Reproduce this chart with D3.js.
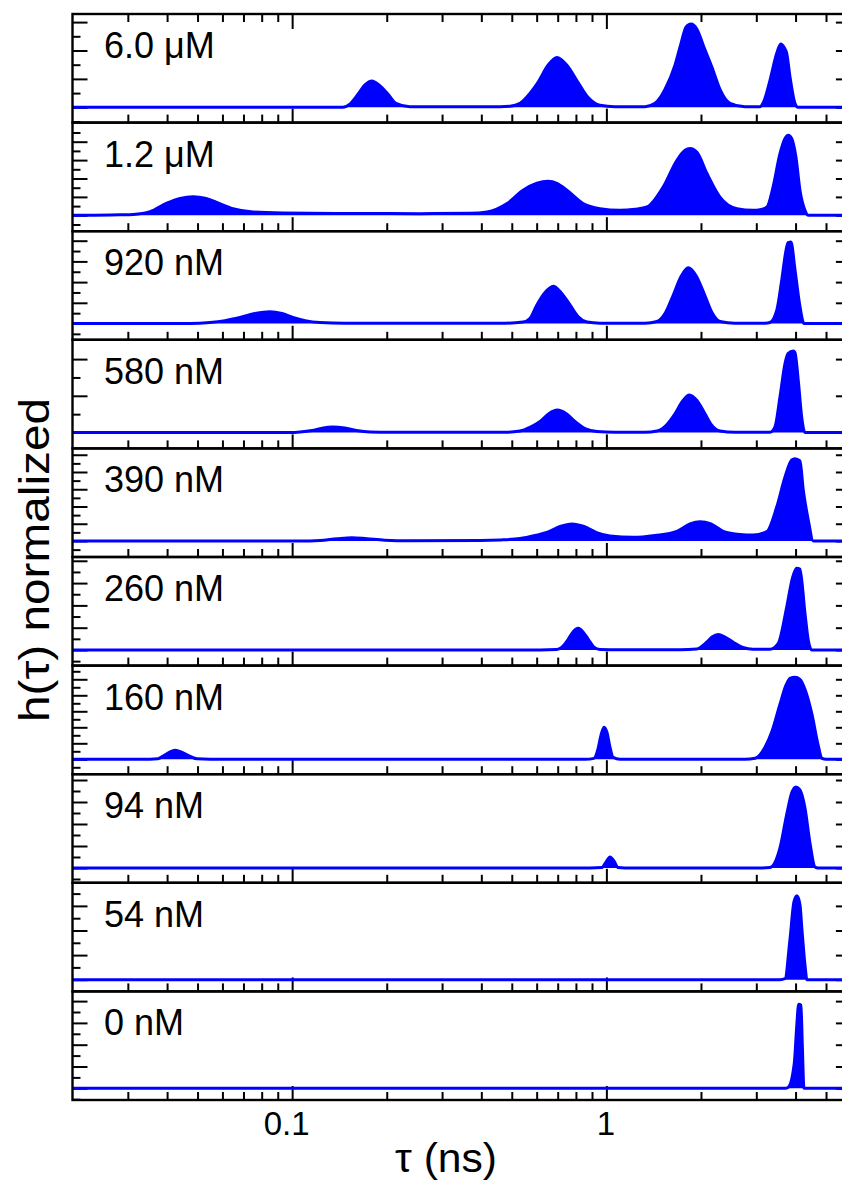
<!DOCTYPE html>
<html><head><meta charset="utf-8">
<script src="https://cdn.jsdelivr.net/npm/d3@7"></script>
<style>html,body{margin:0;padding:0;background:#fff}svg{display:block}</style>
</head><body><svg id="c" width="842" height="1186"></svg>
<script>
// ---------------- data ----------------
const panelLabels = ["6.0 \u03BCM", "1.2 \u03BCM", "920 nM", "580 nM", "390 nM", "260 nM", "160 nM", "94 nM", "54 nM", "0 nM"];
// per-panel y range (in units of that panel's major tick step)
const yMinByPanel = [-0.539, -0.864, -0.787, -0.433, -0.928, -0.70, -0.931, -0.673, -0.476, -0.537];
const yMaxByPanel = [3.285, 5.038, 4.459, 2.526, 5.368, 4.170, 5.856, 4.264, 3.939, 4.445];
const xDomain = [0.02, 6];
const xMajorTicks = [0.1, 1];
const xTickLabels = ["0.1", "1"];
const xMinorTicks = [0.03,0.04,0.05,0.06,0.07,0.08,0.09,0.2,0.3,0.4,0.5,0.6,0.7,0.8,0.9,2,3,4,5];
const xAxisTitle = "\u03C4 (ns)";
const yAxisTitle = "h(\u03C4) normalized";

// [tau (ns), h(tau)]
const h_6000nM = [[0.02,0],[0.145,0],[0.153,0.12],[0.162,0.46],[0.1705,0.79],[0.1795,0.93],[0.189,0.79],[0.202,0.46],[0.214,0.14],[0.237,0.02],[0.459,0.02],[0.493,0.035],[0.531,0.14],[0.571,0.49],[0.606,0.88],[0.652,1.48],[0.696,1.75],[0.749,1.48],[0.812,0.88],[0.874,0.35],[0.954,0.07],[1.065,0.02],[1.327,0.02],[1.428,0.14],[1.536,0.63],[1.653,1.48],[1.728,2.25],[1.792,2.82],[1.859,2.93],[1.942,2.75],[2.045,2.11],[2.168,1.41],[2.299,0.63],[2.474,0.14],[2.761,0.02],[3.082,0.02],[3.150,0.14],[3.316,0.95],[3.484,1.90],[3.588,2.23],[3.676,2.11],[3.749,1.90],[3.839,1.08],[3.982,0.14],[4.071,0],[6,0]];
const h_1200nM = [[0.02,0],[0.0283,0.03],[0.0312,0.05],[0.0353,0.2],[0.0399,0.66],[0.0440,0.92],[0.0484,1.01],[0.0528,0.93],[0.0575,0.70],[0.0648,0.36],[0.0751,0.18],[0.0935,0.125],[0.153,0.10],[0.255,0.09],[0.368,0.11],[0.417,0.18],[0.483,0.64],[0.543,1.36],[0.601,1.74],[0.651,1.85],[0.696,1.74],[0.749,1.36],[0.843,0.64],[0.954,0.36],[1.105,0.27],[1.233,0.33],[1.346,0.45],[1.514,1.52],[1.677,2.99],[1.779,3.53],[1.845,3.63],[1.942,3.42],[2.090,2.27],[2.299,0.99],[2.604,0.36],[2.928,0.27],[3.082,0.30],[3.244,0.45],[3.390,1.52],[3.568,3.35],[3.702,4.17],[3.792,4.35],[3.888,4.18],[4.012,3.15],[4.131,1.36],[4.285,0.27],[4.390,0],[6,0]];
const h_920nM = [[0.02,0],[0.0473,0],[0.0548,0.05],[0.0611,0.14],[0.0682,0.29],[0.0762,0.48],[0.0850,0.57],[0.0928,0.48],[0.1006,0.29],[0.110,0.14],[0.1226,0.05],[0.147,0.015],[0.476,0.015],[0.543,0.07],[0.571,0.24],[0.601,0.90],[0.638,1.50],[0.678,1.80],[0.717,1.50],[0.766,0.90],[0.812,0.34],[0.868,0.07],[0.954,0.015],[1.327,0.015],[1.449,0.10],[1.536,0.48],[1.629,1.34],[1.728,2.27],[1.822,2.69],[1.928,2.32],[2.060,1.34],[2.168,0.53],[2.299,0.10],[2.566,0.015],[3.197,0.015],[3.316,0.05],[3.484,0.63],[3.613,2.08],[3.729,3.53],[3.784,3.91],[3.868,3.94],[3.982,2.61],[4.131,0.82],[4.254,0],[6,0]];
const h_580nM = [[0.02,0],[0.0984,0],[0.1059,0.014],[0.1157,0.055],[0.1245,0.12],[0.1349,0.15],[0.147,0.12],[0.160,0.055],[0.177,0.014],[0.205,0.005],[0.476,0.005],[0.531,0.04],[0.571,0.14],[0.615,0.30],[0.657,0.52],[0.698,0.61],[0.744,0.52],[0.795,0.30],[0.855,0.11],[0.933,0.027],[1.065,0.005],[1.327,0.005],[1.449,0.04],[1.547,0.19],[1.653,0.51],[1.753,0.87],[1.836,1.02],[1.942,0.87],[2.060,0.51],[2.168,0.19],[2.299,0.04],[2.566,0.005],[3.316,0.008],[3.440,0.155],[3.568,0.97],[3.702,1.88],[3.784,2.15],[3.933,2.22],[3.982,2.18],[4.080,1.42],[4.182,0.43],[4.285,0],[6,0]];
const h_390nM = [[0.02,0],[0.1059,0],[0.1226,0.03],[0.1389,0.13],[0.155,0.19],[0.173,0.13],[0.197,0.046],[0.237,0.017],[0.396,0.03],[0.459,0.06],[0.531,0.145],[0.593,0.32],[0.646,0.49],[0.712,0.84],[0.776,0.99],[0.849,0.84],[0.931,0.49],[1.027,0.29],[1.215,0.21],[1.428,0.32],[1.674,0.56],[1.845,0.99],[1.986,1.12],[2.152,0.99],[2.355,0.56],[2.661,0.38],[2.928,0.35],[3.237,0.54],[3.484,1.97],[3.702,3.71],[3.888,4.70],[3.982,4.77],[4.131,4.64],[4.232,2.96],[4.390,1.22],[4.554,0],[6,0]];
const h_260nM = [[0.02,0],[0.615,0],[0.695,0.02],[0.722,0.13],[0.756,0.48],[0.783,0.81],[0.814,0.97],[0.843,0.81],[0.876,0.48],[0.913,0.13],[0.954,0.02],[1.105,0.01],[1.715,0.013],[1.938,0.045],[2.085,0.35],[2.168,0.58],[2.270,0.70],[2.385,0.58],[2.534,0.35],[2.721,0.11],[2.928,0.036],[3.316,0.036],[3.524,0.30],[3.749,1.93],[3.916,3.27],[4.032,3.66],[4.131,3.63],[4.285,1.65],[4.390,0.45],[4.501,0],[6,0]];
const h_160nM = [[0.02,0],[0.0353,0],[0.0374,0.03],[0.0394,0.28],[0.0409,0.47],[0.0424,0.56],[0.0443,0.47],[0.0463,0.28],[0.0498,0.03],[0.0548,0],[0.855,0],[0.913,0.06],[0.940,0.63],[0.961,1.5],[0.983,2.0],[1.004,1.69],[1.027,0.75],[1.050,0.125],[1.105,0],[2.761,0],[2.972,0.06],[3.197,0.75],[3.365,1.75],[3.568,3.44],[3.729,4.63],[3.839,5.06],[3.982,5.13],[4.131,5.0],[4.285,4.38],[4.511,2.81],[4.714,0.94],[4.854,0.06],[4.998,0],[6,0]];
const h_94nM = [[0.02,0],[0.887,0],[0.968,0.02],[0.997,0.27],[1.027,0.50],[1.057,0.32],[1.089,0.02],[1.146,0],[3.082,0],[3.316,0.02],[3.568,0.91],[3.756,2.5],[3.896,3.45],[4.012,3.68],[4.131,3.55],[4.285,2.73],[4.445,1.14],[4.611,0.045],[4.714,0],[6,0]];
const h_54nM = [[0.02,0],[3.568,0],[3.702,0.04],[3.839,1.63],[3.954,3.17],[4.041,3.41],[4.131,3.05],[4.192,2.03],[4.285,0.61],[4.348,0],[6,0]];
const h_0nM = [[0.02,0],[3.702,0],[3.792,0.05],[3.963,1.15],[4.032,2.80],[4.092,3.85],[4.162,3.81],[4.201,2.06],[4.254,0],[6,0]];
const seriesByPanel = [h_6000nM, h_1200nM, h_920nM, h_580nM, h_390nM, h_260nM, h_160nM, h_94nM, h_54nM, h_0nM];

// ---------------- layout ----------------
const W = 842, H = 1186;
const plotLeft = 72.5, plotRight = 850.9, plotTop = 14, plotBottom = 1100;
const nP = seriesByPanel.length;
const ph = (plotBottom - plotTop) / nP;
const BLUE = "#0000ff";
const FONT = "'Liberation Sans', Arial, Helvetica, sans-serif";

const svg = d3.select("#c");
svg.append("rect").attr("width", W).attr("height", H).attr("fill", "#fff");

const x = d3.scaleLog().domain(xDomain).range([plotLeft, plotRight]);

function styleAxis(sel) {
  sel.select(".domain").remove();
  sel.selectAll(".tick line").attr("stroke", "#000").attr("stroke-width", 2);
}

seriesByPanel.forEach((data, i) => {
  const pt = plotTop + i * ph, pb = pt + ph;
  const y = d3.scaleLinear().domain([yMinByPanel[i], yMaxByPanel[i]]).range([pb, pt]);
  const g = svg.append("g");

  const inside = v => { const py = y(v); return py > pt + 1 && py < pb - 0.4; };
  const majors = d3.range(Math.ceil(yMinByPanel[i]), Math.floor(yMaxByPanel[i]) + 1).filter(inside);
  const minors = d3.range(Math.ceil(yMinByPanel[i] * 2), Math.floor(yMaxByPanel[i] * 2) + 1)
    .filter(k => k % 2 !== 0).map(k => k / 2).filter(inside);

  // x ticks (inward, bottom of each panel)
  g.append("g").attr("transform", `translate(0,${pb})`)
    .call(d3.axisBottom(x).tickValues(xMinorTicks).tickSize(-8).tickSizeOuter(0).tickFormat(""))
    .call(styleAxis);
  const isLast = i === nP - 1;
  const maj = g.append("g").attr("transform", `translate(0,${pb})`)
    .call(d3.axisBottom(x).tickValues(xMajorTicks).tickSize(-14).tickSizeOuter(0).tickPadding(12)
      .tickFormat((d, k) => isLast ? xTickLabels[k] : ""))
    .call(styleAxis);
  maj.selectAll("text").attr("font-family", FONT).attr("font-size", 33).attr("fill", "#000")
    .attr("dx", (d, k) => k === 0 ? -6 : -1);

  if (i === 0) {
    g.append("g").attr("transform", `translate(0,${pt})`)
      .call(d3.axisTop(x).tickValues(xMinorTicks).tickSize(-8).tickSizeOuter(0).tickFormat(""))
      .call(styleAxis);
    g.append("g").attr("transform", `translate(0,${pt})`)
      .call(d3.axisTop(x).tickValues(xMajorTicks).tickSize(-15).tickSizeOuter(0).tickFormat(""))
      .call(styleAxis);
  }

  // y ticks
  g.append("g").attr("transform", `translate(${plotLeft},0)`)
    .call(d3.axisLeft(y).tickValues(majors).tickSize(-15).tickSizeOuter(0).tickFormat(""))
    .call(styleAxis);
  g.append("g").attr("transform", `translate(${plotLeft},0)`)
    .call(d3.axisLeft(y).tickValues(minors).tickSize(-8).tickSizeOuter(0).tickFormat(""))
    .call(styleAxis);
  g.append("g").attr("transform", `translate(${plotRight},0)`)
    .call(d3.axisRight(y).tickValues(majors).tickSize(-15).tickSizeOuter(0).tickFormat(""))
    .call(styleAxis);

  // data
  const area = d3.area().x(d => x(d[0])).y0(y(0)).y1(d => y(d[1])).curve(d3.curveMonotoneX);
  const line = d3.line().x(d => x(d[0])).y(d => y(d[1])).curve(d3.curveMonotoneX);
  g.append("path").datum(data).attr("d", area).attr("fill", BLUE);
  g.append("path").datum(data).attr("d", line).attr("fill", "none").attr("stroke", BLUE).attr("stroke-width", 3);

  // frame
  g.append("rect").attr("x", plotLeft).attr("y", pt).attr("width", plotRight - plotLeft).attr("height", ph)
    .attr("fill", "none").attr("stroke", "#000").attr("stroke-width", 2.4);

  // label
  g.append("text").attr("x", 104).attr("y", pt + 44).attr("font-family", FONT).attr("font-size", 36)
    .attr("fill", "#000").text(panelLabels[i]);
});

svg.append("text").attr("x", 446).attr("y", 1172).attr("text-anchor", "middle")
  .attr("font-family", FONT).attr("font-size", 40).attr("fill", "#000")
  .attr("textLength", 102).attr("lengthAdjust", "spacingAndGlyphs").text(xAxisTitle);
svg.append("text").attr("transform", "translate(49,560) rotate(-90)").attr("text-anchor", "middle")
  .attr("font-family", FONT).attr("font-size", 42).attr("fill", "#000")
  .attr("textLength", 324).attr("lengthAdjust", "spacingAndGlyphs").text(yAxisTitle);
</script>
</body></html>
